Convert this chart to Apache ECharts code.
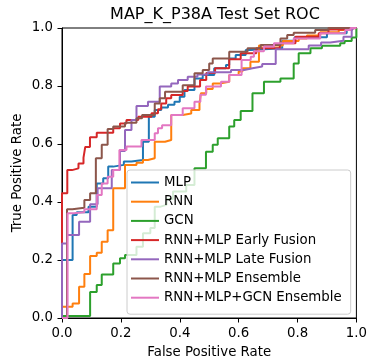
<!DOCTYPE html>
<html>
<head>
<meta charset="utf-8">
<script src="https://cdn.jsdelivr.net/npm/echarts@6/dist/echarts.min.js"></script>
<style>
html,body{margin:0;padding:0;background:#fff;}
#chart{width:370px;height:364px;}
</style>
</head>
<body>
<div id="chart"></div>
<script>
// ---- data (fpr, tpr); step "end" = jump at x ----
const seriesNames = ['MLP','RNN','GCN','RNN+MLP Early Fusion','RNN+MLP Late Fusion','RNN+MLP Ensemble','RNN+MLP+GCN Ensemble'];
const seriesColors = ['#1f77b4','#ff7f0e','#2ca02c','#d62728','#9467bd','#8c564b','#e377c2'];
const xTicks = [0,0.2,0.4,0.6,0.8,1.0];
const yTicks = [0,0.2,0.4,0.6,0.8,1.0];

const mlpPoints = [[0,0],[0,0.2],[0.036,0.355],[0.05,0.365],[0.09,0.384],[0.118,0.464],[0.14,0.482],[0.157,0.522],[0.174,0.528],[0.21,0.54],[0.236,0.545],[0.275,0.608],[0.295,0.694],[0.315,0.717],[0.337,0.726],[0.36,0.735],[0.382,0.746],[0.4,0.763],[0.416,0.786],[0.45,0.826],[0.478,0.838],[0.517,0.861],[0.557,0.872],[0.568,0.895],[0.59,0.907],[0.624,0.924],[0.641,0.93],[0.748,0.956],[0.79,0.968],[0.9,0.982],[0.967,0.993],[0.985,1.0],[1,1]];
const rnnPoints = [[0,0],[0,0.039],[0.036,0.05],[0.058,0.108],[0.076,0.152],[0.0955,0.214],[0.118,0.225],[0.135,0.263],[0.155,0.303],[0.174,0.447],[0.214,0.528],[0.253,0.535],[0.275,0.545],[0.292,0.551],[0.315,0.608],[0.35,0.614],[0.371,0.7],[0.41,0.705],[0.439,0.717],[0.467,0.74],[0.472,0.775],[0.49,0.79],[0.512,0.809],[0.54,0.815],[0.568,0.838],[0.6,0.85],[0.613,0.861],[0.64,0.884],[0.669,0.94],[0.75,0.955],[0.804,0.964],[0.832,0.974],[0.877,0.985],[0.94,0.993],[0.98,1.0],[1,1]];
const gcnPoints = [[0,0],[0,0.007],[0.0955,0.09],[0.118,0.114],[0.135,0.15],[0.174,0.188],[0.197,0.206],[0.214,0.217],[0.253,0.246],[0.275,0.292],[0.30,0.31],[0.315,0.384],[0.335,0.39],[0.355,0.41],[0.377,0.436],[0.422,0.459],[0.45,0.516],[0.489,0.573],[0.512,0.597],[0.529,0.62],[0.568,0.66],[0.585,0.683],[0.607,0.714],[0.647,0.775],[0.686,0.815],[0.742,0.826],[0.787,0.878],[0.804,0.913],[0.844,0.93],[0.883,0.939],[0.945,0.947],[0.96,0.955],[0.984,0.967],[1,1]];
const earlyPoints = [[0,0],[0,0.43],[0.018,0.51],[0.034,0.516],[0.056,0.533],[0.073,0.553],[0.079,0.59],[0.095,0.623],[0.118,0.639],[0.174,0.654],[0.197,0.671],[0.219,0.683],[0.259,0.694],[0.304,0.706],[0.326,0.72],[0.337,0.74],[0.354,0.758],[0.371,0.769],[0.41,0.783],[0.427,0.798],[0.469,0.821],[0.49,0.845],[0.52,0.861],[0.568,0.892],[0.607,0.913],[0.66,0.93],[0.74,0.947],[0.793,0.97],[0.872,0.982],[0.905,0.995],[0.95,1.0],[1,1]];
const latePoints = [[0,0],[0,0.257],[0.017,0.286],[0.058,0.332],[0.0955,0.392],[0.121,0.447],[0.169,0.51],[0.197,0.576],[0.214,0.648],[0.236,0.683],[0.253,0.731],[0.292,0.746],[0.332,0.798],[0.371,0.809],[0.394,0.821],[0.427,0.832],[0.46,0.84],[0.495,0.847],[0.574,0.855],[0.619,0.861],[0.647,0.867],[0.68,0.876],[0.726,0.927],[0.838,0.94],[0.88,0.95],[0.911,0.956],[0.956,0.97],[0.984,0.993],[0.99,1.0],[1,1]];
const ensemblePoints = [[0,0],[0.017,0.375],[0.035,0.38],[0.076,0.407],[0.0955,0.43],[0.115,0.551],[0.135,0.597],[0.155,0.652],[0.174,0.66],[0.214,0.673],[0.253,0.689],[0.272,0.70],[0.315,0.74],[0.332,0.758],[0.35,0.78],[0.41,0.803],[0.45,0.844],[0.478,0.855],[0.50,0.878],[0.512,0.895],[0.568,0.918],[0.63,0.93],[0.675,0.941],[0.742,0.964],[0.765,0.976],[0.787,0.984],[0.86,0.993],[0.905,1.0],[1,1]];
const gcnEnsemblePoints = [[0,0],[0.019,0.361],[0.04,0.365],[0.076,0.375],[0.118,0.424],[0.135,0.464],[0.155,0.487],[0.174,0.51],[0.195,0.579],[0.219,0.591],[0.27,0.614],[0.315,0.637],[0.326,0.654],[0.34,0.665],[0.371,0.7],[0.41,0.723],[0.45,0.746],[0.47,0.77],[0.489,0.798],[0.54,0.815],[0.568,0.838],[0.61,0.89],[0.641,0.901],[0.652,0.92],[0.686,0.936],[0.72,0.947],[0.787,0.964],[0.877,0.982],[0.962,0.993],[0.98,1.0],[1,1]];

const allPoints = [mlpPoints, rnnPoints, gcnPoints, earlyPoints, latePoints, ensemblePoints, gcnEnsemblePoints];

const FONT = 'DejaVu Sans';
const FS = 13.33;
const chart = echarts.init(document.getElementById('chart'), null, {renderer:'canvas'});

const fmt = v => v.toFixed(1);

chart.setOption({
  animation: false,
  backgroundColor: '#fff',
  title: {
    text: 'MAP_K_P38A Test Set ROC',
    left: 210, top: 2, textAlign: 'center',
    textStyle: {fontFamily: FONT, fontSize: 16, fontWeight: 'normal', color: '#000'}
  },
  grid: {left: 62, right: 12, top: 28, bottom: 46, show: true, borderColor: '#000', borderWidth: 1, backgroundColor: 'transparent'},
  legend: {
    data: seriesNames.map(n => ({name: n, icon: 'path://M0,0H28V2H0Z'})),
    orient: 'vertical',
    left: 127, top: 170,
    padding: [6, 9, 10, 4],
    itemWidth: 28, itemHeight: 14, itemGap: 6.2, itemTextGap: 10,
    backgroundColor: 'rgba(255,255,255,0.8)',
    borderColor: '#cccccc', borderWidth: 1, borderRadius: 3,
    textStyle: {fontFamily: FONT, fontSize: FS, color: '#000'}
  },
  xAxis: {
    type: 'value', min: 0, max: 1, interval: 0.2,
    name: 'False Positive Rate', nameLocation: 'middle', nameGap: 28, nameMoveOverlap: false,
    nameTextStyle: {fontFamily: FONT, fontSize: FS, color: '#000'},
    axisLine: {show: true, lineStyle: {color: '#000', width: 1}},
    axisTick: {show: true, length: 4.5, inside: false, lineStyle: {color: '#000'}},
    axisLabel: {fontFamily: FONT, fontSize: FS, color: '#000', margin: 9, formatter: fmt},
    splitLine: {show: false}
  },
  yAxis: {
    type: 'value', min: 0, max: 1, interval: 0.2,
    name: 'True Positive Rate', nameLocation: 'middle', nameGap: 38, nameRotate: 90, nameMoveOverlap: false,
    nameTextStyle: {fontFamily: FONT, fontSize: FS, color: '#000'},
    axisLine: {show: true, lineStyle: {color: '#000', width: 1}},
    axisTick: {show: true, length: 4.5, inside: false, lineStyle: {color: '#000'}},
    axisLabel: {fontFamily: FONT, fontSize: FS, color: '#000', margin: 9, formatter: fmt},
    splitLine: {show: false}
  },
  series: seriesNames.map((name, i) => ({
    name: name,
    type: 'line',
    step: 'end',
    symbol: 'none',
    data: allPoints[i],
    color: seriesColors[i],
    lineStyle: {color: seriesColors[i], width: 2},
    itemStyle: {color: seriesColors[i]}
  }))
});
</script>
</body>
</html>
